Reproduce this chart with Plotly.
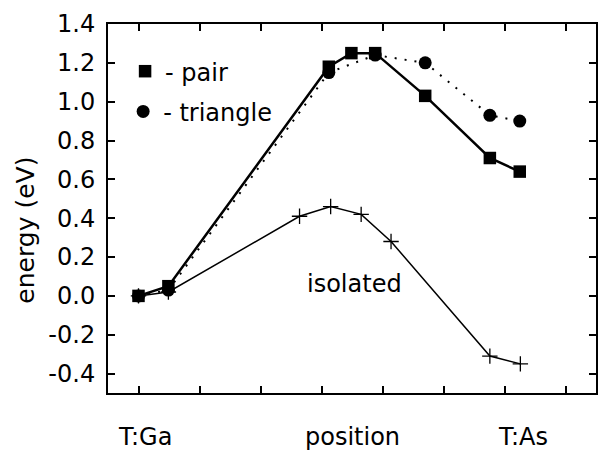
import plotly.graph_objects as go

# Data
pair_x = [0.0, 0.49, 3.12, 3.49, 3.88, 4.70, 5.76, 6.25]
pair_y = [0.0, 0.05, 1.18, 1.25, 1.25, 1.03, 0.71, 0.64]

tri_x = [0.0, 0.49, 3.12, 3.88, 4.70, 5.76, 6.25]
tri_y = [0.0, 0.03, 1.15, 1.24, 1.20, 0.93, 0.90]

iso_x = [0.0, 0.49, 2.64, 3.15, 3.65, 4.14, 5.76, 6.26]
iso_y = [0.0, 0.02, 0.41, 0.46, 0.42, 0.28, -0.31, -0.35]

y_ticks = [-0.4, -0.2, 0.0, 0.2, 0.4, 0.6, 0.8, 1.0, 1.2, 1.4]
x_ticks = [0, 1, 2, 3, 4, 5, 6, 7]
x_labels = ["T:Ga", "position", "T:As"]
x_label_pos = [0.1, 3.5, 6.3]

FONT = "DejaVu Sans, sans-serif"
FS = 24

fig = go.Figure()

fig.add_trace(go.Scatter(
    x=tri_x, y=tri_y, mode="lines+markers", showlegend=False,
    line=dict(color="black", width=2, dash="2px,8px"),
    marker=dict(symbol="circle", size=13, color="black"),
))
fig.add_trace(go.Scatter(
    x=pair_x, y=pair_y, mode="lines+markers", showlegend=False,
    line=dict(color="black", width=2.5),
    marker=dict(symbol="square", size=12.5, color="black"),
))
fig.add_trace(go.Scatter(
    x=iso_x, y=iso_y, mode="lines+markers", showlegend=False,
    line=dict(color="black", width=1.5),
    marker=dict(symbol="cross-thin-open", size=11, color="black",
                line=dict(color="black", width=1.3)),
))

# legend-only key entries
fig.add_trace(go.Scatter(x=[None], y=[None], mode="markers", name="- pair",
                         legend="legend",
                         marker=dict(symbol="square", size=12.5, color="black")))
fig.add_trace(go.Scatter(x=[None], y=[None], mode="markers", name="- triangle",
                         legend="legend2",
                         marker=dict(symbol="circle", size=13, color="black")))

fig.update_xaxes(
    range=[-0.5, 7.5], tickvals=x_ticks, showticklabels=False,
    ticks="inside", ticklen=7, tickwidth=2, tickcolor="black",
    showline=True, linecolor="black", linewidth=2, mirror="ticks",
    showgrid=False, zeroline=False,
)
fig.update_yaxes(
    range=[-0.5, 1.4], tickvals=y_ticks,
    ticktext=[f"{v:.1f}" for v in y_ticks],
    ticks="inside", ticklen=7, tickwidth=2, tickcolor="black",
    showline=True, linecolor="black", linewidth=2, mirror="ticks",
    showgrid=False, zeroline=False, ticklabelstandoff=6,
    tickfont=dict(family=FONT, size=FS, color="black"),
)

annotations = []
for lab, pos in zip(x_labels, x_label_pos):
    annotations.append(dict(x=pos, xref="x", y=-0.12, yref="paper", text=lab,
                            showarrow=False, xanchor="center", yanchor="middle",
                            font=dict(family=FONT, size=FS, color="black")))
annotations.append(dict(x=-0.168, xref="paper", y=0.44, yref="paper",
                        text="energy (eV)", textangle=-90, showarrow=False,
                        xanchor="center", yanchor="middle",
                        font=dict(family=FONT, size=FS + 1, color="black")))
annotations.append(dict(x=3.54, xref="x", y=0.06, yref="y", text="isolated",
                        showarrow=False, xanchor="center", yanchor="middle",
                        font=dict(family=FONT, size=FS, color="black")))

leg_common = dict(xanchor="left", yanchor="top", bgcolor="rgba(0,0,0,0)",
                  font=dict(family=FONT, size=FS, color="black"), itemwidth=30)

fig.update_layout(
    width=605, height=456,
    margin=dict(l=108, r=7, t=24, b=63),
    paper_bgcolor="white", plot_bgcolor="white",
    font=dict(family=FONT, size=FS, color="black"),
    annotations=annotations,
    legend=dict(x=0.035, y=0.932, **leg_common),
    legend2=dict(x=0.031, y=0.823, **leg_common),
)

fig.write_html("out.html")
